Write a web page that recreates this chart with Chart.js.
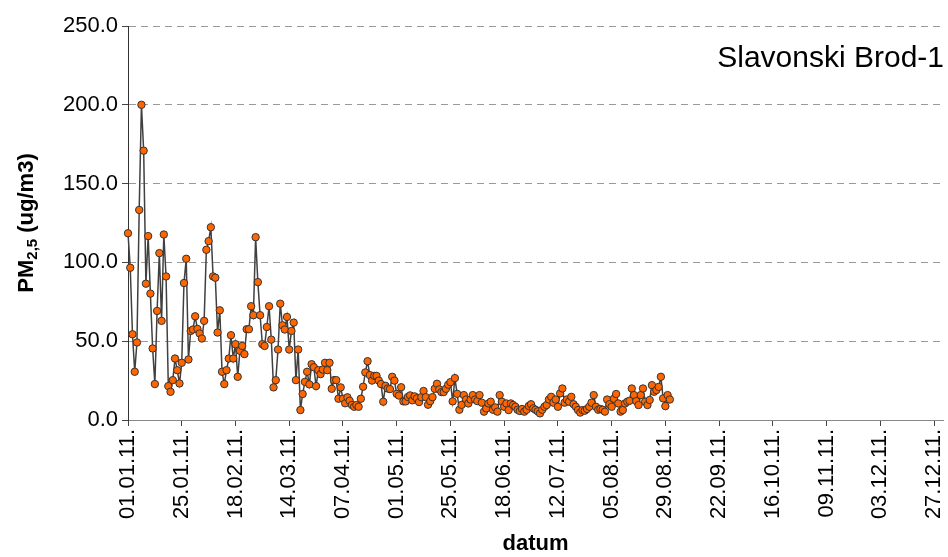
<!DOCTYPE html>
<html lang="hr">
<head>
  <meta charset="UTF-8" />
  <title>PM2,5 Slavonski Brod-1</title>
  <script src="https://cdn.jsdelivr.net/npm/chart.js"></script>
  <style>
    body {
      margin: 0;
      background: #ffffff;
      overflow: hidden;
    }
    canvas {
      display: block;
    }
  </style>
</head>
<body>
  <canvas id="myChart" width="948" height="557"></canvas>

  <script>
    // dnevne vrijednosti PM2,5 od 01.01.2011. nadalje (ug/m3)
    const pm25 = [
      118.5, 96.6, 54.4, 30.6, 49.2, 133.3, 200, 170.9, 86.5, 116.7,
      80.2, 45.4, 22.8, 69.2, 105.9, 62.9, 117.7, 91.1, 21.5, 17.9,
      25.3, 39, 31.6, 23.2, 36.3, 86.9, 102.3, 38.4, 56.5, 57.4,
      65.8, 57.8, 54.9, 51.7, 62.9, 108, 113.5, 122.3, 91.1, 90.3,
      55.5, 69.6, 30.6, 22.8, 31.6, 39, 53.8, 39, 48.1, 27.4,
      43.9, 47, 41.8, 57.6, 57.6, 72.2, 66.5, 116, 87.5, 66.5,
      48.1, 47, 59, 72.2, 51, 20.7, 25.3, 44.7, 73.8, 60.1,
      57.4, 65.4, 44.7, 56.5, 61.8, 25.3, 44.7, 6.3, 16.5, 24.2,
      30.6, 22.6, 35.4, 33.5, 21.5, 31.6, 29.1, 32, 36.3, 31.6,
      36.3, 19.8, 25.3, 25.3, 13.5, 20.7, 13.5, 10.6, 14.4, 12.2,
      9.5, 8.4, 9.5, 8.4, 13.5, 21.1, 30.2, 37.3, 28.5, 25,
      28, 28, 25, 22.8, 11.6, 21.7, 20, 19.6, 27.4, 25,
      16.6, 15.5, 20.8, 11.8, 11.8, 14.6, 15.6, 12.5, 15, 13.7,
      11.4, 14.5, 18.4, 14.5, 9.7, 12, 14.5, 19.8, 23, 19.4,
      17.7, 17.7, 19.8, 22.4, 24, 11.8, 26.6, 16.6, 6.5, 9.6,
      15.8, 13, 10.5, 13, 15.8, 13, 12, 15.8, 11, 5.3,
      7.4, 10.5, 11.6, 6.5, 8, 5.3, 15.8, 11.6, 8.4, 10.5,
      6.3, 10.5, 9.5, 8.4, 6.5, 5.7, 7, 5.3, 6.5, 8.9,
      10, 7.4, 6.5, 5.5, 4.2, 6.5, 8.4, 9.5, 13, 14.7,
      11, 13, 8.4, 16.9, 20, 11, 13, 11.6, 14.7, 10,
      8.4, 6.3, 4.7, 6.3, 5.9, 7, 8.4, 11, 15.8, 8.4,
      6.5, 7, 6.5, 5.3, 13, 10, 8.4, 13.5, 16.5, 10.5,
      5.3, 6.3, 10.5, 11.6, 12.2, 20, 15.8, 12, 9.5, 15.8,
      20, 11.6, 9.5, 12.7, 22.1, 17.9, 19, 21, 27.4, 13.7,
      8.8, 15.8, 13
    ];

    // oznake na x osi (svakih 24 dana)
    const dateTicks = [
      "01.01.11.", "25.01.11.", "18.02.11.", "14.03.11.", "07.04.11.", "01.05.11.",
      "25.05.11.", "18.06.11.", "12.07.11.", "05.08.11.", "29.08.11.", "22.09.11.",
      "16.10.11.", "09.11.11.", "03.12.11.", "27.12.11."
    ];

    const stationName = "Slavonski Brod-1";
    const FONT = "'Liberation Sans', Arial, sans-serif";

    // naslov y osi s indeksom (PM2,5) i naziv postaje
    const extraText = {
      id: 'extraText',
      afterDraw: (chart) => {
        const ctx = chart.ctx;
        const area = chart.chartArea;
        ctx.save();
        ctx.fillStyle = "#000000";

        // naziv postaje
        ctx.font = "30px " + FONT;
        ctx.textAlign = "right";
        ctx.textBaseline = "alphabetic";
        ctx.fillText(stationName, 944, 67);

        // y naslov
        const big = "bold 22px " + FONT;
        const small = "bold 15px " + FONT;
        const parts = [
          { t: "PM", f: big, dy: 0 },
          { t: "2,5", f: small, dy: 4 },
          { t: " (ug/m3)", f: big, dy: 0 }
        ];
        let total = 0;
        parts.forEach(p => { ctx.font = p.f; p.w = ctx.measureText(p.t).width; total += p.w; });
        ctx.translate(24, (area.top + area.bottom) / 2);
        ctx.rotate(-Math.PI / 2);
        ctx.textAlign = "left";
        let x = -total / 2;
        parts.forEach(p => {
          ctx.font = p.f;
          ctx.fillText(p.t, x, 9 + p.dy);
          x += p.w;
        });
        ctx.restore();
      }
    };

    const ctx = document.getElementById("myChart").getContext("2d");

    new Chart(ctx, {
      type: "line",
      data: {
        datasets: [{
          label: "PM2,5",
          data: pm25.map((v, i) => ({ x: i, y: v })),
          borderColor: "#404040",
          borderWidth: 1.5,
          pointRadius: 3.7,
          pointBorderWidth: 1,
          pointBackgroundColor: "#FF6600",
          pointBorderColor: "#333333",
          tension: 0,
          clip: false
        }]
      },
      options: {
        responsive: false,
        animation: false,
        layout: {
          padding: { top: 26, right: 3, left: 0, bottom: 0 }
        },
        plugins: {
          legend: { display: false },
          tooltip: { enabled: false }
        },
        scales: {
          x: {
            type: "linear",
            min: 0,
            max: 364,
            afterFit: (scale) => {
              scale.height = 137;
              scale.paddingLeft = 0;
              scale.paddingRight = 0;
            },
            ticks: {
              stepSize: 24,
              includeBounds: false,
              autoSkip: false,
              maxRotation: 90,
              minRotation: 90,
              padding: 3,
              color: "#000000",
              font: { family: FONT, size: 22 },
              callback: (value, index) => dateTicks[index]
            },
            grid: {
              drawOnChartArea: false,
              drawTicks: true,
              tickLength: 6,
              tickColor: "#444444"
            },
            border: { color: "#888888", width: 1 },
            title: {
              display: true,
              text: "datum",
              color: "#000000",
              font: { family: FONT, size: 22, weight: "bold" },
              padding: { top: 0, bottom: 0 }
            }
          },
          y: {
            min: 0,
            max: 250,
            afterFit: (scale) => { scale.width = 128; },
            ticks: {
              stepSize: 50,
              padding: 4,
              color: "#000000",
              font: { family: FONT, size: 22 },
              callback: (value) => value.toFixed(1)
            },
            grid: {
              color: (c) => (c.tick && c.tick.value === 0) ? "rgba(0,0,0,0)" : "#9a9a9a",
              lineWidth: 1,
              tickLength: 6,
              tickColor: "#444444",
              tickBorderDash: []
            },
            border: { color: "#333333", width: 1, dash: [7, 5] }
          }
        }
      },
      plugins: [extraText]
    });
  </script>
</body>
</html>
